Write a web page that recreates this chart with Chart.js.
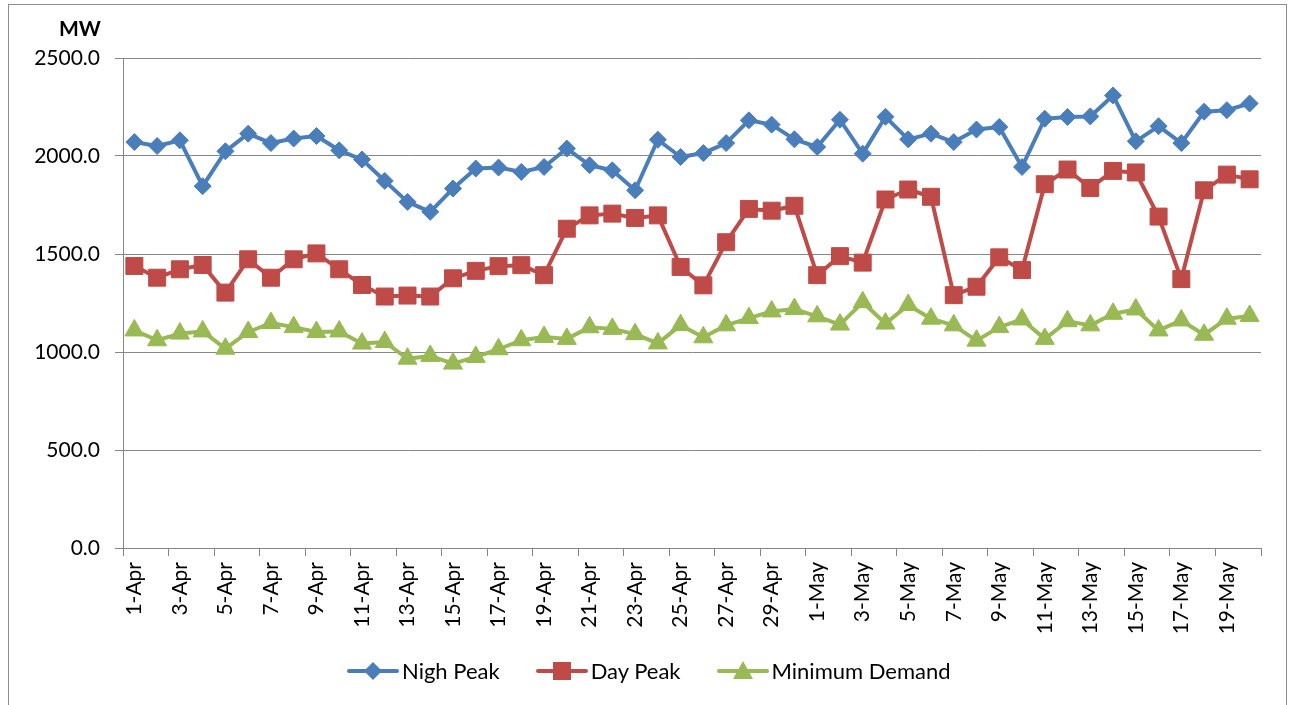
<!DOCTYPE html>
<html>
<head>
<meta charset="utf-8">
<script src="https://cdn.jsdelivr.net/npm/chart.js@4.4.0/dist/chart.umd.min.js"></script>
<style>
  html, body { margin: 0; padding: 0; background: #fff; overflow: hidden; }
  body { width: 1291px; height: 705px; position: relative; font-family: Lato, "Open Sans", sans-serif; }
  #frame { position: absolute; left: 8px; top: 4px; width: 1279px; height: 760px; border: 1px solid #8c8c8c; box-sizing: border-box; }
  #wrap { position: absolute; left: 0; top: 0; width: 1291px; height: 705px; }
  #unit { position: absolute; left: 59px; top: 15px; font-weight: bold; font-size: 21px; color: #000; }
  #legend { position: absolute; left: 347px; top: 657px; display: flex; align-items: center; font-size: 22px; color: #000; }
  .item { display: flex; align-items: center; margin-right: 36px; }
  .item svg { margin-right: 3px; }
</style>
</head>
<body>
<div id="frame"></div>
<div id="wrap"><canvas id="chart"></canvas></div>
<div id="unit">MW</div>
<div id="legend"></div>
<script>
// categorias (dias)
const days = [
  "1-Apr", "2-Apr", "3-Apr", "4-Apr", "5-Apr", "6-Apr", "7-Apr", "8-Apr", "9-Apr", "10-Apr",
  "11-Apr", "12-Apr", "13-Apr", "14-Apr", "15-Apr", "16-Apr", "17-Apr", "18-Apr", "19-Apr", "20-Apr",
  "21-Apr", "22-Apr", "23-Apr", "24-Apr", "25-Apr", "26-Apr", "27-Apr", "28-Apr", "29-Apr", "30-Apr",
  "1-May", "2-May", "3-May", "4-May", "5-May", "6-May", "7-May", "8-May", "9-May", "10-May",
  "11-May", "12-May", "13-May", "14-May", "15-May", "16-May", "17-May", "18-May", "19-May", "20-May"
];

const nighPeak = [
  2071, 2051, 2080, 1846, 2024, 2114, 2066, 2089, 2102, 2029,
  1982, 1873, 1766, 1715, 1834, 1936, 1941, 1919, 1944, 2038,
  1953, 1927, 1825, 2083, 1995, 2015, 2066, 2182, 2160, 2085,
  2046, 2185, 2012, 2200, 2085, 2114, 2071, 2135, 2148, 1944,
  2190, 2199, 2202, 2309, 2075, 2152, 2066, 2226, 2234, 2268
];

const dayPeak = [
  1439, 1379, 1422, 1444, 1303, 1473, 1379, 1473, 1503, 1422,
  1342, 1283, 1288, 1283, 1376, 1414, 1438, 1443, 1392, 1629,
  1697, 1706, 1684, 1697, 1434, 1340, 1560, 1730, 1721, 1746,
  1392, 1489, 1456, 1778, 1829, 1792, 1290, 1333, 1483, 1418,
  1856, 1931, 1837, 1924, 1916, 1691, 1372, 1825, 1905, 1881
];

const minDemand = [
  1110, 1060, 1094, 1105, 1017, 1102, 1148, 1127, 1102, 1105,
  1043, 1051, 966, 980, 941, 975, 1014, 1060, 1077, 1067,
  1126, 1118, 1091, 1044, 1137, 1075, 1136, 1173, 1207, 1219,
  1182, 1140, 1254, 1145, 1240, 1170, 1136, 1058, 1127, 1166,
  1067, 1157, 1136, 1195, 1217, 1110, 1161, 1088, 1170, 1184
];

const yTicks = [0, 500, 1000, 1500, 2000, 2500];

const gridGray = '#868686';
const tickFont = { family: 'Lato', size: 21 };

const series = [
  { label: 'Nigh Peak', data: nighPeak, color: '#4a7ebb', style: 'rectRot', radius: 8.5 },
  { label: 'Day Peak', data: dayPeak, color: '#be4b48', style: 'rect', radius: 12 },
  { label: 'Minimum Demand', data: minDemand, color: '#98b954', style: 'triangle', radius: 11 }
];

new Chart(document.getElementById('chart'), {
  type: 'line',
  data: {
    labels: days,
    datasets: series.map(s => ({
      label: s.label,
      data: s.data,
      borderColor: s.color,
      backgroundColor: s.color,
      borderWidth: 4,
      borderJoinStyle: 'round',
      borderCapStyle: 'round',
      tension: 0,
      pointStyle: s.style,
      pointRadius: s.radius,
      pointHoverRadius: s.radius,
      pointBorderWidth: 1,
      pointBorderColor: s.color,
      pointBackgroundColor: s.color,
      fill: false
    }))
  },
  options: {
    responsive: true,
    maintainAspectRatio: false,
    animation: false,
    layout: { padding: { top: 58, right: 30, bottom: 0, left: 0 } },
    plugins: {
      legend: { display: false },
      tooltip: { enabled: false }
    },
    scales: {
      x: {
        type: 'category',
        offset: true,
        afterFit: function(scale) { scale.height = 157; },
        grid: {
          offset: true,
          drawOnChartArea: false,
          drawTicks: true,
          tickLength: 8,
          color: function(ctx) {
            if (ctx.index === undefined || ctx.index % 2 === 0) return gridGray;
            return 'rgba(0,0,0,0)';
          }
        },
        border: { display: true, color: gridGray, width: 1 },
        ticks: {
          autoSkip: false,
          minRotation: 90,
          maxRotation: 90,
          padding: 6,
          color: '#000',
          font: tickFont,
          callback: function(value, index) {
            return index % 2 === 0 ? days[index] : '';
          }
        }
      },
      y: {
        min: yTicks[0],
        max: yTicks[yTicks.length - 1],
        afterFit: function(scale) { scale.width = 123; },
        afterBuildTicks: function(scale) {
          scale.ticks = yTicks.map(v => ({ value: v }));
        },
        grid: {
          color: gridGray,
          lineWidth: 1,
          drawTicks: true,
          tickLength: 8
        },
        border: { display: true, color: gridGray, width: 1 },
        ticks: {
          padding: 15,
          color: '#000',
          font: tickFont,
          callback: function(value) { return value.toFixed(1); }
        }
      }
    }
  }
});

// legenda em HTML
function markerSvg(s) {
  const c = s.color;
  let m = '';
  if (s.style === 'rectRot') m = `<polygon points="26,1 35,10 26,19 17,10" fill="${c}"/>`;
  else if (s.style === 'rect') m = `<rect x="17" y="1" width="18" height="18" fill="${c}"/>`;
  else m = `<polygon points="26,0 36,18 16,18" fill="${c}"/>`;
  return `<svg width="52" height="20" viewBox="0 0 52 20">` +
    `<line x1="2" y1="10" x2="50" y2="10" stroke="${c}" stroke-width="4" stroke-linecap="round"/>` + m + `</svg>`;
}

const legend = document.getElementById('legend');
series.forEach(s => {
  const item = document.createElement('div');
  item.className = 'item';
  item.innerHTML = markerSvg(s) + '<span>' + s.label + '</span>';
  legend.appendChild(item);
});
</script>
</body>
</html>
